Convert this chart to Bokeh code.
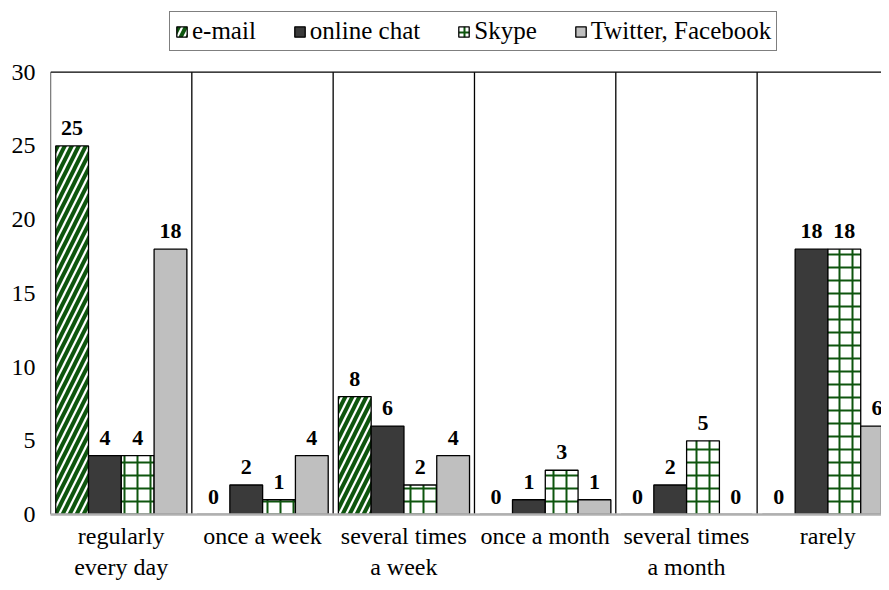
from bokeh.plotting import figure
from bokeh.models import (ColumnDataSource, Range1d, FixedTicker, Legend, LegendItem)
from bokeh.transform import dodge
from bokeh.core.properties import value
from bokeh.embed import file_html
from bokeh.resources import INLINE

categories = ["regularly\nevery day", "once a week", "several times\na week",
              "once a month", "several times\na month", "rarely"]
email = [25, 0, 8, 0, 0, 0]
online_chat = [4, 2, 6, 1, 2, 18]
skype = [4, 1, 2, 3, 5, 18]
twitter = [18, 4, 4, 1, 0, 6]
series_names = ["e-mail", "online chat", "Skype", "Twitter, Facebook"]
y_ticks = [0, 5, 10, 15, 20, 25, 30]

FONT = "Liberation Serif"
GREEN = "#0e550e"

# layout (pixels)
H, W_FIG = 582, 881
BOTTOM = 66            # x-axis panel height
BOX_TOP = 72           # pixel row of the top of the value box
frame_h = H - BOTTOM
y_top = y_ticks[-1] * frame_h / (frame_h - BOX_TOP)

xpos = [i + 0.5 for i in range(len(categories))]
src = ColumnDataSource(dict(
    x=xpos,
    email=email, chat=online_chat, skype=skype, twitter=twitter,
    email_t=[str(v) for v in email], chat_t=[str(v) for v in online_chat],
    skype_t=[str(v) for v in skype], twitter_t=[str(v) for v in twitter],
))

p = figure(width=W_FIG, height=H, x_range=Range1d(0, 5.88), y_range=Range1d(0, y_top),
           output_backend="svg", toolbar_location=None,
           min_border_left=50, min_border_right=0, min_border_top=0, min_border_bottom=BOTTOM)
p.outline_line_color = None
p.background_fill_color = "white"
p.border_fill_color = "white"
p.xgrid.visible = False
p.ygrid.visible = False

# box: left edge, category separators and top edge, all up to the top tick
n = len(categories)
p.segment(x0=list(range(n)), y0=[0] * n, x1=list(range(n)), y1=[y_ticks[-1]] * n,
          line_color="black", line_width=1.3)
p.segment(x0=[0], y0=[y_ticks[-1]], x1=[n], y1=[y_ticks[-1]],
          line_color="black", line_width=1.3)

BW = 0.232
offs = [-0.347, -0.115, 0.117, 0.349]

r_email = p.vbar(x=dodge("x", offs[0], range=None), top="email", width=BW, source=src,
                 fill_color="white", line_color="black", line_width=1.3,
                 hatch_pattern="/", hatch_color=GREEN, hatch_scale=14, hatch_weight=4)
r_chat = p.vbar(x=dodge("x", offs[1], range=None), top="chat", width=BW, source=src,
                fill_color="#3a3a3a", line_color="black", line_width=1.3)
r_skype = p.vbar(x=dodge("x", offs[2], range=None), top="skype", width=BW, source=src,
                 fill_color="white", line_color="black", line_width=1.3,
                 hatch_pattern="+", hatch_color=GREEN, hatch_scale=13, hatch_weight=2)
r_tw = p.vbar(x=dodge("x", offs[3], range=None), top="twitter", width=BW, source=src,
              fill_color="#bfbfbf", line_color="black", line_width=1.3)

for off, col in zip(offs, ["email_t", "chat_t", "skype_t", "twitter_t"]):
    p.text(x=dodge("x", off, range=None), y=col.replace("_t", ""), text=col, source=src,
           text_align="center", text_baseline="bottom", y_offset=-11,
           text_font=value(FONT), text_font_size="22px", text_font_style="bold",
           text_color="black")

# y axis
p.yaxis.ticker = FixedTicker(ticks=y_ticks)
p.yaxis.major_tick_out = 0
p.yaxis.major_tick_in = 0
p.yaxis.minor_tick_line_color = None
p.yaxis.axis_line_color = None
p.yaxis.major_label_standoff = 15
p.yaxis.major_label_text_font = FONT
p.yaxis.major_label_text_font_size = "24px"
p.yaxis.major_label_text_color = "black"

# x axis
p.xaxis.ticker = FixedTicker(ticks=xpos)
p.xaxis.major_label_overrides = {x: c for x, c in zip(xpos, categories)}
p.xaxis.major_tick_out = 0
p.xaxis.major_tick_in = 0
p.xaxis.minor_tick_line_color = None
p.xaxis.axis_line_color = "#b0b0b0"
p.xaxis.axis_line_width = 2.5
p.xaxis.major_label_standoff = 8
p.xaxis.major_label_text_font = FONT
p.xaxis.major_label_text_font_size = "24px"
p.xaxis.major_label_text_color = "black"

legend = Legend(items=[LegendItem(label=nm, renderers=[r]) for nm, r in
                       zip(series_names, [r_email, r_chat, r_skype, r_tw])],
                orientation="horizontal", location=(119, frame_h - 53))
legend.label_text_font = FONT
legend.label_text_font_size = "25px"
legend.label_text_color = "black"
legend.glyph_width = 13
legend.glyph_height = 13
legend.label_standoff = 4
legend.spacing = 37
legend.padding = 5
legend.margin = 0
legend.border_line_color = "black"
legend.border_line_width = 1.3
legend.background_fill_alpha = 1
p.add_layout(legend, "center")

open("out.html", "w").write(file_html(p, INLINE))
